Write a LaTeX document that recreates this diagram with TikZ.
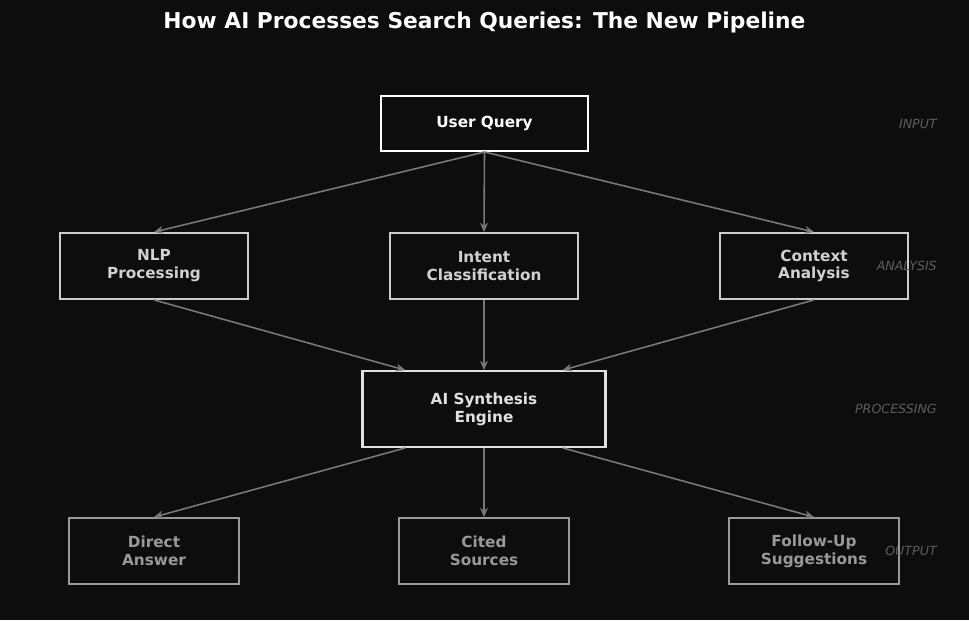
\documentclass[tikz,border=0pt]{standalone}
\usepackage{fontspec}
\setmainfont{DejaVu Sans}
\usetikzlibrary{arrows.meta}
\definecolor{bgdark}{HTML}{0D0D0D}
\definecolor{edgegray}{HTML}{777777}
\begin{document}
\begin{tikzpicture}[x=0.02646cm, y=-0.02646cm,
		box/.style = {draw, line width = 1.6pt, fill = bgdark, align = center, font = \bfseries\fontsize{11.5}{13.5}\selectfont, inner sep = 0pt},
		flow/.style = {draw = edgegray, line width = 1.2pt, -{Stealth[length = 7pt, width = 6pt]}},
		tier/.style = {anchor = east, inner sep = 0pt, font = \itshape\fontsize{9.5}{11}\selectfont, text = white!33!bgdark}]
	\fill [bgdark] (0,0) rectangle (969,620);
	\useasboundingbox (0,0) rectangle (969,620);
	\node [font = \bfseries\fontsize{16.4}{19}\selectfont, text = white] (title) at (484.5,22) {How AI Processes Search Queries: The New Pipeline};

	% input
	\node [box, draw = white, text = white, minimum width = 207*0.75pt, minimum height = 55*0.75pt] (query) at (484.5,123.5) {User Query};

	% analysis
	\foreach \name/\x/\txt in {nlp/154/NLP\\Processing, intent/484/Intent\\Classification, context/814/Context\\Analysis}
	{
		\node [box, draw = white!80!black, text = white!82!black, minimum width = 188*0.75pt, minimum height = 66*0.75pt] (\name) at (\x,266) {\txt};
	}

	% processing
	\node [box, draw = white!88!black, text = white!88!black, minimum width = 244*0.75pt, minimum height = 76*0.75pt] (engine) at (484,409) {AI Synthesis\\Engine};

	% output
	\foreach \name/\x/\txt in {direct/154/Direct\\Answer, cited/484/Cited\\Sources, follow/814/Follow-Up\\Suggestions}
	{
		\node [box, draw = white!60!black, text = white!60!black, minimum width = 170*0.75pt, minimum height = 66*0.75pt] (\name) at (\x,551) {\txt};
	}

	\coordinate (inl) at ([xshift = -79*0.75pt]engine.north);
	\coordinate (inr) at ([xshift = 79*0.75pt]engine.north);
	\coordinate (outl) at ([xshift = -79*0.75pt]engine.south);
	\coordinate (outr) at ([xshift = 79*0.75pt]engine.south);

	\draw [flow] (query.south) -- (nlp.north);
	\draw [flow] (query.south) -- (intent.north);
	\draw [flow] (query.south) -- (context.north);
	\draw [flow] (nlp.south) -- (inl);
	\draw [flow] (intent.south) -- (engine.north);
	\draw [flow] (context.south) -- (inr);
	\draw [flow] (outl) -- (direct.north);
	\draw [flow] (engine.south) -- (cited.north);
	\draw [flow] (outr) -- (follow.north);

	% tier labels
	\node [tier] (tin) at (937,123.5) {INPUT};
	\node [tier] (tan) at (937,266) {ANALYSIS};
	\node [tier] (tpr) at (937,409) {PROCESSING};
	\node [tier] (tout) at (937,551) {OUTPUT};
\end{tikzpicture}
\end{document}
